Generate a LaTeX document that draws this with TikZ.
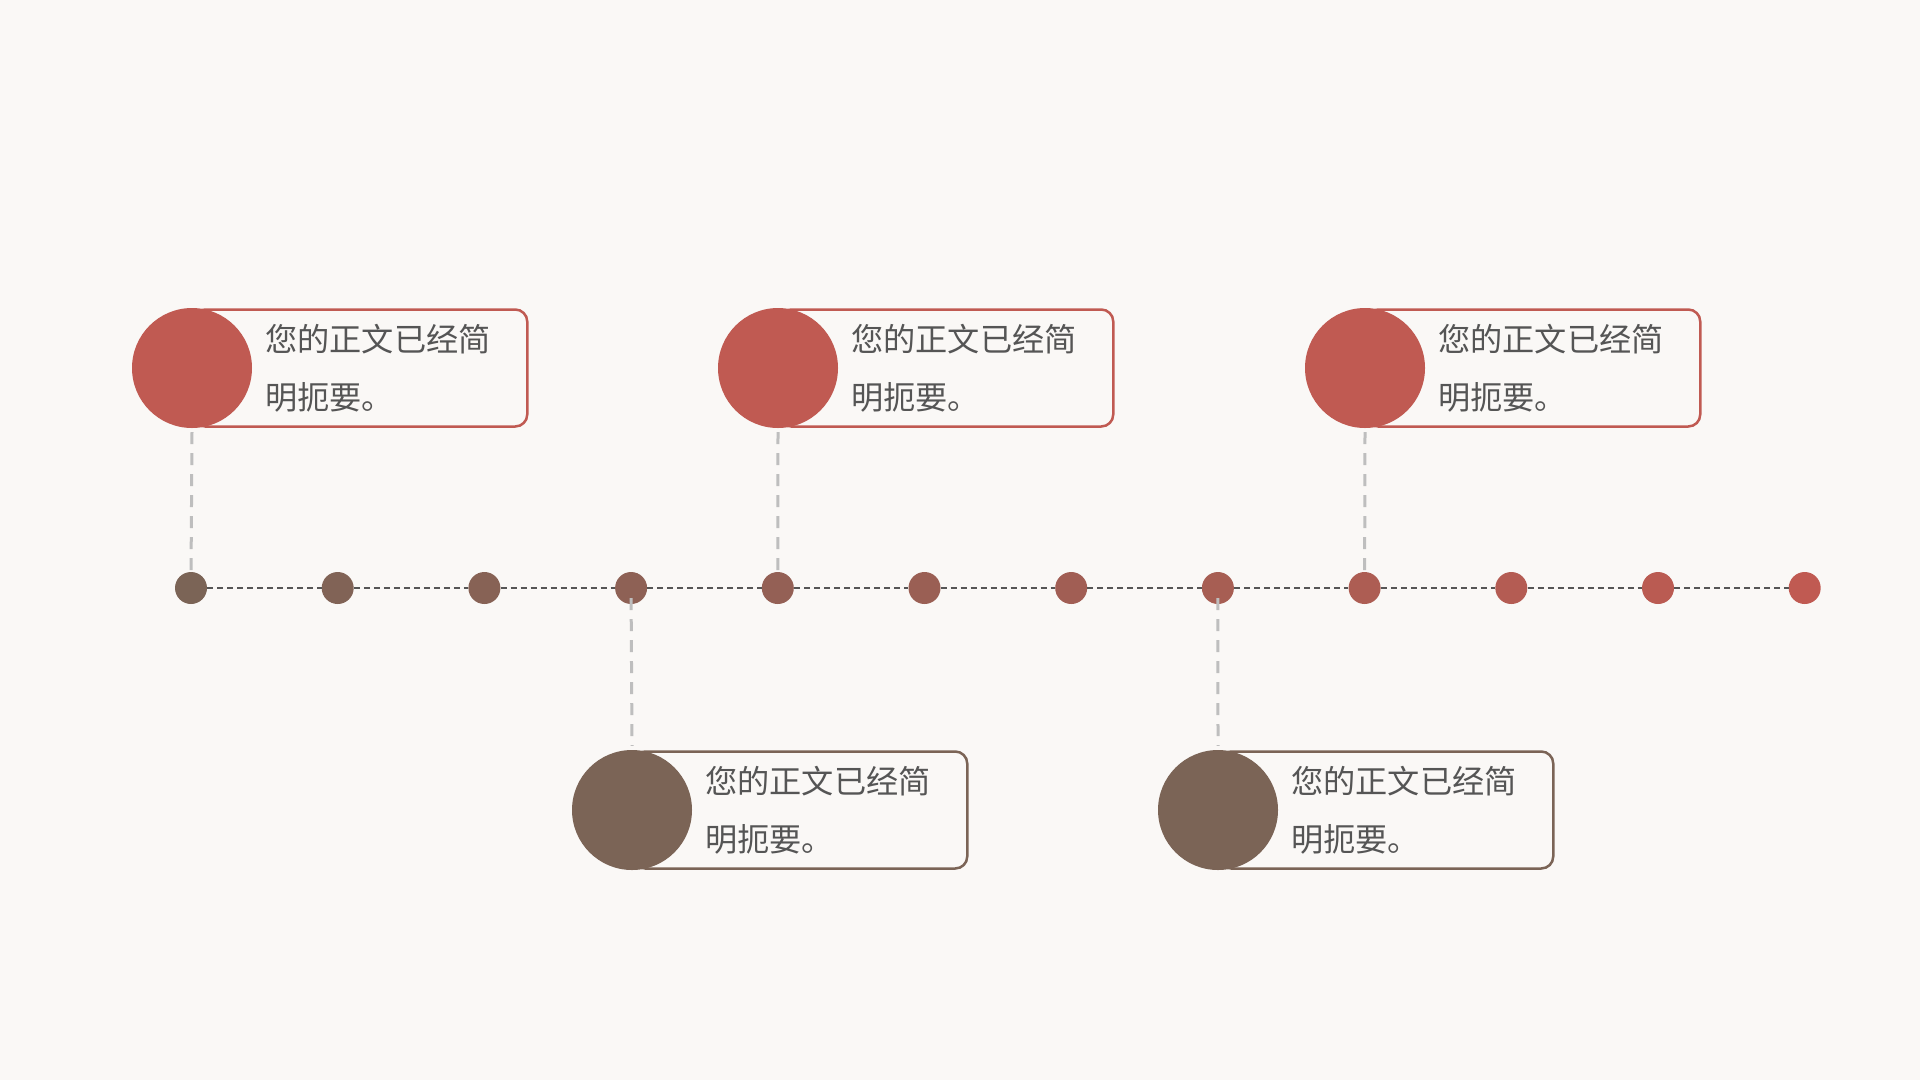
\documentclass[tikz,border=0pt]{standalone}
\usepackage{fontspec}
\newfontfamily\cjk{Noto Sans CJK SC}
\definecolor{bgc}{RGB}{250,248,246}
\definecolor{redc}{RGB}{192,90,82}
\definecolor{brownc}{RGB}{123,100,86}
\definecolor{txtc}{RGB}{85,85,85}
\definecolor{linec}{RGB}{85,85,85}
\definecolor{vconnc}{RGB}{190,190,190}
\tikzset{
  dotn/.style={circle, inner sep=0pt, minimum size=32pt},
  bigcirc/.style={circle, inner sep=0pt, minimum size=120pt},
  boxn/.style={rectangle, rounded corners=12pt, line width=2.5pt, fill=bgc, minimum width=334pt, minimum height=117pt, anchor=west, inner sep=0pt},
  txt/.style={anchor=west, inner sep=0pt, align=left, text=txtc, font=\cjk\fontsize{32.2}{58}\selectfont},
  tline/.style={draw=linec, line width=2pt, dash pattern=on 6pt off 4pt},
  vconn/.style={draw=vconnc, line width=3pt, dash pattern=on 12pt off 9pt}
}
\begin{document}
\begin{tikzpicture}[x=1pt,y=-1pt]
\fill[bgc] (0,0) rectangle (1920,1080);
\useasboundingbox (0,0) rectangle (1920,1080);
% timeline dots
\foreach \i in {0,...,11}{
  \pgfmathsetmacro{\p}{round(\i/11*100)}
  \node[dotn, fill=redc!\p!brownc] (d\i) at ({191+146.7*\i},588) {};
}
\draw[tline] (d0.east) -- (d1.west);
\draw[tline] (d1.east) -- (d2.west);
\draw[tline] (d2.east) -- (d3.west);
\draw[tline] (d3.east) -- (d4.west);
\draw[tline] (d4.east) -- (d5.west);
\draw[tline] (d5.east) -- (d6.west);
\draw[tline] (d6.east) -- (d7.west);
\draw[tline] (d7.east) -- (d8.west);
\draw[tline] (d8.east) -- (d9.west);
\draw[tline] (d9.east) -- (d10.west);
\draw[tline] (d10.east) -- (d11.west);
% top boxes
\node[boxn, draw=redc] (b1) at (192,368) {};
\node[bigcirc, fill=redc] (c1) at (192,368) {};
\node[txt] (t1) at (265,368) {您的正文已经简\\明扼要。};
\node[boxn, draw=redc] (b2) at (778,368) {};
\node[bigcirc, fill=redc] (c2) at (778,368) {};
\node[txt] (t2) at (851,368) {您的正文已经简\\明扼要。};
\node[boxn, draw=redc] (b3) at (1365,368) {};
\node[bigcirc, fill=redc] (c3) at (1365,368) {};
\node[txt] (t3) at (1438,368) {您的正文已经简\\明扼要。};
% bottom boxes
\node[boxn, draw=brownc] (b4) at (632,810) {};
\node[bigcirc, fill=brownc] (c4) at (632,810) {};
\node[txt] (t4) at (705,810) {您的正文已经简\\明扼要。};
\node[boxn, draw=brownc] (b5) at (1218,810) {};
\node[bigcirc, fill=brownc] (c5) at (1218,810) {};
\node[txt] (t5) at (1291,810) {您的正文已经简\\明扼要。};
% connectors
\draw[vconn] ([yshift=-4pt]c1.south) -- ([yshift=-6pt]d0.north);
\draw[vconn] ([yshift=-4pt]c2.south) -- ([yshift=-6pt]d4.north);
\draw[vconn] ([yshift=-4pt]c3.south) -- ([yshift=-6pt]d8.north);
\draw[vconn] ([yshift=6pt]d3.south) -- ([yshift=4pt]c4.north);
\draw[vconn] ([yshift=6pt]d7.south) -- ([yshift=4pt]c5.north);
\end{tikzpicture}
\end{document}
